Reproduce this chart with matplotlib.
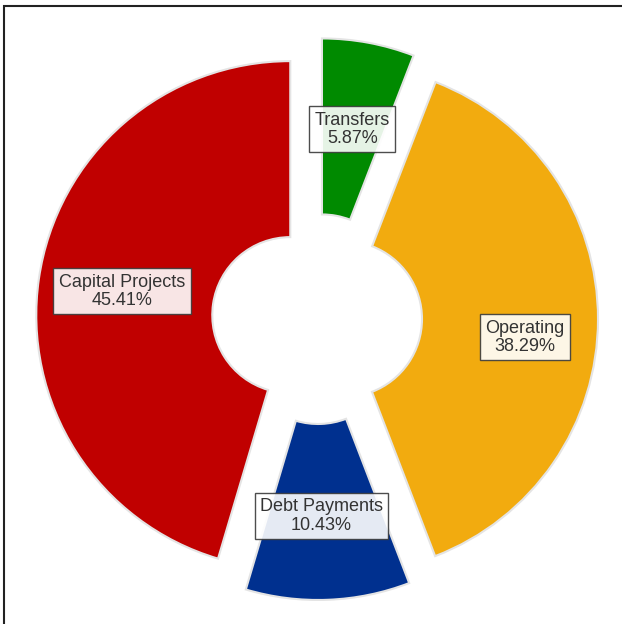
import numpy as np
import matplotlib
matplotlib.use("Agg")
import matplotlib.pyplot as plt
from matplotlib.patches import Rectangle

# budget split, clockwise from 12 o'clock
categories = ["Transfers", "Operating", "Debt Payments", "Capital Projects"]
shares = [5.87, 38.29, 10.43, 45.41]
colors = ["#008a00", "#f2ab0f", "#00308f", "#c00000"]
# small hand nudges for label boxes (pixels, x right / y up)
label_nudge = [(0, 0), (15, -18), (-3, -4), (-4, 0)]

plt.rcParams["font.family"] = ["Liberation Sans", "DejaVu Sans"]

fig = plt.figure(figsize=(6.22, 6.24), dpi=100)
fig.patch.set_facecolor("white")
ax = fig.add_axes([0, 0, 1, 1])

outer = 254
inner = 78
gap = 27  # pie explode is in data units (pixels here)
wedges, _ = ax.pie(
    shares,
    colors=colors,
    startangle=90,
    counterclock=False,
    radius=outer,
    center=(317, 305),
    explode=[gap] * len(shares),
    wedgeprops=dict(width=outer - inner, edgecolor="#e4e4e4", linewidth=1.5),
    frame=True,
)
ax.set_xlim(0, 622)
ax.set_ylim(0, 624)
ax.set_aspect("equal")
ax.axis("off")

mid_r = (outer + inner) / 2
for w, name, val, (nx, ny) in zip(wedges, categories, shares, label_nudge):
    ang = np.deg2rad((w.theta1 + w.theta2) / 2)
    cx, cy = w.center
    x = cx + mid_r * np.cos(ang) + nx
    y = cy + mid_r * np.sin(ang) + ny
    ax.text(x, y, f"{name}\n{val:.2f}%", ha="center", va="center",
            fontsize=13, color="#333333", linespacing=1.1,
            bbox=dict(boxstyle="square,pad=0.3", facecolor="white",
                      edgecolor="#3a3a3a", linewidth=1.0, alpha=0.9))

# outer frame, cut off at right and bottom like the source image
fig.patches.append(Rectangle((4 / 622, -0.1), 1.2, 1.1 - 6 / 624, transform=fig.transFigure,
                             fill=False, edgecolor="#222222", linewidth=1.5))

fig.savefig("out.png", dpi=100)
